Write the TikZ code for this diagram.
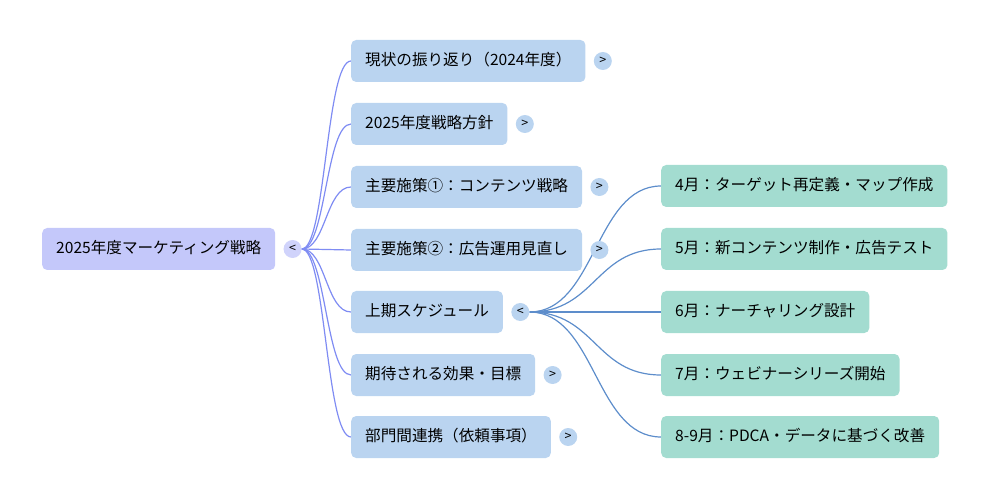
\documentclass[tikz,border=0pt]{standalone}
\usepackage{fontspec}
\setmainfont{Noto Sans CJK JP}
\usetikzlibrary{positioning, backgrounds}

\definecolor{rootfill}{HTML}{C4C8FA}
\definecolor{mainfill}{HTML}{BAD4F0}
\definecolor{subfill}{HTML}{A3DCD0}
\definecolor{rootline}{HTML}{7F8CF3}
\definecolor{subline}{HTML}{5D8DCB}

\tikzset{
  topic/.style = {anchor=west, rounded corners=5pt, inner xsep=14pt, minimum height=42pt,
                  text height=11.5pt, text depth=3pt, font=\fontsize{15.6}{18}\selectfont},
  rootbox/.style = {topic, fill=rootfill},
  mainbox/.style = {topic, fill=mainfill},
  subbox/.style = {topic, fill=subfill},
  toggle/.style = {circle, inner sep=0pt, minimum size=18pt, right=8pt of #1,
                   font=\fontsize{12.5}{12.5}\selectfont},
  rootlink/.style = {draw=rootline, line width=1.2pt},
  sublink/.style = {draw=subline, line width=1.2pt}
}

\begin{document}
\begin{tikzpicture}[x=1pt, y=-1pt]
\useasboundingbox (0,0) rectangle (1001,486);

% root and first level
\node[rootbox] (root) at (42,249) {2025年度マーケティング戦略};
\node[mainbox] (a) at (351,61) {現状の振り返り（2024年度）};
\node[mainbox] (b) at (351,124) {2025年度戦略方針};
\node[mainbox] (c) at (351,187) {主要施策①：コンテンツ戦略};
\node[mainbox] (d) at (351,250) {主要施策②：広告運用見直し};
\node[mainbox] (e) at (351,312) {上期スケジュール};
\node[mainbox] (f) at (351,375) {期待される効果・目標};
\node[mainbox] (g) at (351,437) {部門間連携（依頼事項）};

% schedule
\node[subbox] (m4) at (661,186) {4月：ターゲット再定義・マップ作成};
\node[subbox] (m5) at (661,249) {5月：新コンテンツ制作・広告テスト};
\node[subbox] (m6) at (661,312) {6月：ナーチャリング設計};
\node[subbox] (m7) at (661,375) {7月：ウェビナーシリーズ開始};
\node[subbox] (m8) at (661,437) {8-9月：PDCA・データに基づく改善};

% toggles
\node[toggle=root, fill=rootfill!80!white] (rt) {<};
\node[toggle=a, fill=mainfill] (at) {>};
\node[toggle=b, fill=mainfill] (bt) {>};
\node[toggle=c, fill=mainfill] (ct) {>};
\node[toggle=d, fill=mainfill] (dt) {>};
\node[toggle=e, fill=mainfill] (et) {<};
\node[toggle=f, fill=mainfill] (ft) {>};
\node[toggle=g, fill=mainfill] (gt) {>};

\begin{pgfonlayer}{background}
\foreach \n in {a,b,c,d,e,f,g}
  \path[rootlink] (rt.east) .. controls +(24,0) and +(-25,0) .. (\n.west);
\foreach \n in {m4,m5,m6,m7,m8}
  \path[sublink] (et.east) .. controls +(66,0) and +(-66,0) .. (\n.west);
\end{pgfonlayer}
\end{tikzpicture}
\end{document}
